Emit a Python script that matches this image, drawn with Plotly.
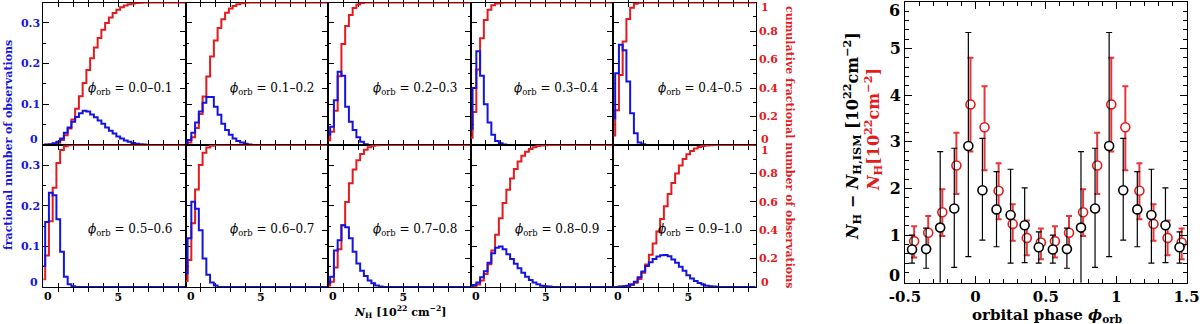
import numpy as np
import plotly.graph_objects as go

W, H = 1200, 324
FONT = 'DejaVu Serif'
BLUE = '#1414e0'
RED = '#e41a1c'

BIN_WIDTH = 0.25
N_BINS = 39  # bin centres 0, 0.25, ... 9.5

PHASE_LABELS = ['0.0–0.1', '0.1–0.2', '0.2–0.3', '0.3–0.4', '0.4–0.5',
                '0.5–0.6', '0.6–0.7', '0.7–0.8', '0.8–0.9', '0.9–1.0']

# fractional number of observations per N_H bin
HIST_00_01 = [0.0, 0.001, 0.002, 0.004, 0.008, 0.016, 0.030, 0.043, 0.057, 0.069, 0.078,
              0.084, 0.082, 0.075, 0.068, 0.060, 0.052, 0.043, 0.035, 0.028, 0.021, 0.016,
              0.011, 0.008, 0.005, 0.003, 0.002, 0.001]
HIST_01_02 = [0.003, 0.012, 0.030, 0.055, 0.082, 0.104, 0.118, 0.118, 0.094, 0.074, 0.052,
              0.037, 0.025, 0.016, 0.010, 0.006, 0.003, 0.001]
HIST_02_03 = [0.025, 0.045, 0.110, 0.180, 0.170, 0.094, 0.057, 0.037, 0.019, 0.008, 0.002]
HIST_03_04 = [0.040, 0.140, 0.230, 0.170, 0.100, 0.055, 0.025, 0.010, 0.004, 0.001]
HIST_04_05 = [0.066, 0.176, 0.246, 0.233, 0.156, 0.078, 0.029, 0.006, 0.002]
HIST_05_06 = [0.052, 0.160, 0.232, 0.226, 0.167, 0.087, 0.025, 0.007, 0.002]
HIST_06_07 = [0.034, 0.120, 0.210, 0.193, 0.140, 0.070, 0.030, 0.011, 0.004]
HIST_07_08 = [0.009, 0.025, 0.090, 0.115, 0.152, 0.147, 0.120, 0.087, 0.058, 0.040, 0.027,
              0.016, 0.009, 0.004, 0.001]
HIST_08_09 = [0.0, 0.005, 0.011, 0.024, 0.039, 0.060, 0.083, 0.097, 0.100, 0.093, 0.081,
              0.069, 0.057, 0.046, 0.035, 0.025, 0.017, 0.011, 0.007, 0.003, 0.002, 0.001]
HIST_09_10 = [0.0, 0.0, 0.001, 0.002, 0.003, 0.007, 0.013, 0.024, 0.038, 0.052, 0.061,
              0.069, 0.075, 0.078, 0.079, 0.076, 0.068, 0.060, 0.050, 0.040, 0.029, 0.021,
              0.015, 0.010, 0.006, 0.003, 0.002, 0.001]
HISTOGRAMS = [HIST_00_01, HIST_01_02, HIST_02_03, HIST_03_04, HIST_04_05,
              HIST_05_06, HIST_06_07, HIST_07_08, HIST_08_09, HIST_09_10]

# column density vs orbital phase (units 1e22 cm^-2)
PHASE_CENTRES = [0.05, 0.15, 0.25, 0.35, 0.45, 0.55, 0.65, 0.75, 0.85, 0.95]
NH_EXCESS = [1.96, 1.55, 1.43, 1.21, 0.74, 0.69, 0.70, 1.16, 1.57, 2.91]
NH_EXCESS_HI = [3.07, 2.36, 2.41, 2.01, 1.07, 1.00, 1.15, 2.79, 2.86, 5.34]
NH_EXCESS_LO = [0.89, 0.75, 0.40, 0.41, 0.40, 0.40, 0.29, -0.50, 0.31, 0.54]
NH_TOTAL = [3.31, 1.95, 1.24, 0.94, 0.84, 0.87, 1.05, 1.49, 2.49, 3.80]
NH_TOTAL_HI = [4.19, 2.54, 1.66, 1.31, 1.14, 1.19, 1.41, 1.98, 3.19, 4.80]
NH_TOTAL_LO = [2.39, 1.34, 0.88, 0.57, 0.48, 0.52, 0.71, 0.98, 1.88, 2.79]


def px(x):
    return x / W


def py(y):
    return 1 - y / H


def ax_name(kind, n):
    return kind if n == 1 else f'{kind}{n}'


def ref(kind, n):
    return kind[0] if n == 1 else f'{kind[0]}{n}'


def unfold(values):
    """Repeat the phase-folded points over -0.5 .. 1.5."""
    xs, ys = [], []
    for shift in (-1, 0, 1):
        for p, v in zip(PHASE_CENTRES, values):
            if -0.5 <= p + shift <= 1.5:
                xs.append(p + shift)
                ys.append(v)
    return xs, ys


fig = go.Figure()
layout = dict(
    template='none',
    width=W, height=H,
    margin=dict(l=0, r=0, t=0, b=0, autoexpand=False),
    paper_bgcolor='white', plot_bgcolor='white',
    showlegend=False,
    font=dict(family=FONT, size=10, color='black', weight='bold'),
)
notes = []

x_edges = [43.3, 185.7, 328.3, 470.7, 613.3, 755.7]
rows = [(2.5, 145.0), (145.0, 287.0)]
bin_x = [k * BIN_WIDTH for k in range(N_BINS)]

for i, (label, hist) in enumerate(zip(PHASE_LABELS, HISTOGRAMS)):
    n = i + 1
    row, col = divmod(i, 5)
    left, right = x_edges[col], x_edges[col + 1]
    top, bottom = rows[row]
    frac = hist + [0.0] * (N_BINS - len(hist))
    cum = np.cumsum(frac) / np.sum(frac)

    # red cumulative on the base axis, blue histogram on the overlay (drawn on top)
    fig.add_trace(go.Scatter(
        x=bin_x, y=cum, mode='lines', line=dict(color=RED, width=2, shape='hvh'),
        xaxis=ref('xaxis', n), yaxis=ref('yaxis', n), hoverinfo='skip'))
    fig.add_trace(go.Scatter(
        x=bin_x, y=frac, mode='lines', line=dict(color=BLUE, width=2, shape='hvh'),
        xaxis=ref('xaxis', n), yaxis=ref('yaxis', n + 10), hoverinfo='skip'))

    layout[ax_name('xaxis', n)] = dict(
        domain=[px(left), px(right)], range=[0, 9.5], anchor=ref('yaxis', n),
        showline=True, linecolor='black', linewidth=1, mirror='allticks',
        ticks='inside', ticklen=4, tickcolor='black',
        tickvals=list(range(10)),
        ticktext=['5' if k == 5 else '' for k in range(10)],
        showticklabels=(row == 1), tickfont=dict(size=11),
        showgrid=False, zeroline=False, layer='below traces', automargin=False)
    layout[ax_name('yaxis', n)] = dict(
        domain=[py(bottom), py(top)], range=[0, 1], anchor=ref('xaxis', n),
        side='right', showline=True, linecolor='black', linewidth=1,
        ticks='inside', ticklen=6, tickcolor='black',
        tickvals=[0.2, 0.4, 0.6, 0.8], ticktext=['0.2', '0.4', '0.6', '0.8'],
        minor=dict(dtick=0.1, ticks='inside', ticklen=3, tickcolor='black'),
        showticklabels=(col == 4), tickfont=dict(size=11, color=RED),
        showgrid=False, zeroline=False, layer='below traces', automargin=False)
    layout[ax_name('yaxis', n + 10)] = dict(
        overlaying=ref('yaxis', n), range=[0, 0.35], anchor=ref('xaxis', n),
        side='left', showline=True, linecolor='black', linewidth=1,
        ticks='inside', ticklen=6, tickcolor='black',
        tickvals=[0.1, 0.2, 0.3], ticktext=['0.1', '0.2', '0.3'],
        minor=dict(dtick=0.05, ticks='inside', ticklen=3, tickcolor='black'),
        showticklabels=(col == 0), tickfont=dict(size=11, color=BLUE),
        showgrid=False, zeroline=False, layer='below traces', automargin=False)

    # phase label inside the panel
    notes.append(dict(
        text=f'<i>ϕ</i><sub>orb</sub> = {label}', x=px(right - 12), y=py(89 if row == 0 else 230),
        xref='paper', yref='paper', xanchor='right', yanchor='middle', showarrow=False,
        font=dict(size=12, weight='normal')))
    # "0" on N_H axis, nudged right of the panel border
    if row == 1:
        notes.append(dict(text='0', x=px(left + 5), y=py(296), xref='paper', yref='paper',
                          xanchor='center', yanchor='middle', showarrow=False,
                          font=dict(size=11)))
    if col == 0:
        notes.append(dict(text='0', x=px(left - 3), y=py(bottom - 5), xref='paper',
                          yref='paper', xanchor='right', yanchor='middle', showarrow=False,
                          font=dict(size=11, color=BLUE)))
    if col == 4:
        notes.append(dict(text='0', x=px(right + 3), y=py(bottom - 5), xref='paper',
                          yref='paper', xanchor='left', yanchor='middle', showarrow=False,
                          font=dict(size=11, color=RED)))
        notes.append(dict(text='1', x=px(right + 3), y=py(top + 5), xref='paper',
                          yref='paper', xanchor='left', yanchor='middle', showarrow=False,
                          font=dict(size=11, color=RED)))

# right-hand panel: N_H against orbital phase
xt, yt = unfold(NH_TOTAL)
_, yt_hi = unfold(NH_TOTAL_HI)
_, yt_lo = unfold(NH_TOTAL_LO)
xe, ye = unfold(NH_EXCESS)
_, ye_hi = unfold(NH_EXCESS_HI)
_, ye_lo = unfold(NH_EXCESS_LO)

fig.add_trace(go.Scatter(
    x=[x + 0.015 for x in xt], y=yt, mode='markers',
    marker=dict(symbol='circle', size=9, color='white', line=dict(color=RED, width=1.6)),
    error_y=dict(type='data', symmetric=False,
                 array=[h - v for h, v in zip(yt_hi, yt)],
                 arrayminus=[v - lo for v, lo in zip(yt, yt_lo)],
                 color='#e8353b', thickness=2, width=3),
    xaxis='x11', yaxis='y21', hoverinfo='skip'))
fig.add_trace(go.Scatter(
    x=xe, y=ye, mode='markers',
    marker=dict(symbol='circle', size=9, color='white', line=dict(color='black', width=1.6)),
    error_y=dict(type='data', symmetric=False,
                 array=[h - v for h, v in zip(ye_hi, ye)],
                 arrayminus=[v - lo for v, lo in zip(ye, ye_lo)],
                 color='black', thickness=1.2, width=3),
    xaxis='x11', yaxis='y21', hoverinfo='skip'))

layout['xaxis11'] = dict(
    domain=[px(905), px(1187)], range=[-0.5, 1.503], anchor='y21',
    showline=True, linecolor='black', linewidth=1, mirror='allticks',
    ticks='inside', ticklen=7, tickcolor='black',
    tickvals=[-0.5, 0, 0.5, 1, 1.5], ticktext=['-0.5', '0', '0.5', '1', '1.5'],
    minor=dict(dtick=0.1, ticks='inside', ticklen=4, tickcolor='black'),
    tickfont=dict(size=15), showgrid=False, zeroline=False, automargin=False)
layout['yaxis21'] = dict(
    domain=[py(282.7), py(1.7)], range=[-0.02, 6.0], anchor='x11',
    showline=True, linecolor='black', linewidth=1, mirror='allticks',
    ticks='inside', ticklen=7, tickcolor='black',
    tickvals=[1, 2, 3, 4, 5], ticktext=['1', '2', '3', '4', '5'],
    minor=dict(dtick=0.2, ticks='inside', ticklen=4, tickcolor='black'),
    tickfont=dict(size=16), showgrid=False, zeroline=False, automargin=False)

notes += [
    dict(text='0', x=px(902), y=py(275), xanchor='right'),
    dict(text='6', x=px(902), y=py(10), xanchor='right'),
]
for nt in notes[-2:]:
    nt.update(xref='paper', yref='paper', yanchor='middle', showarrow=False,
              font=dict(size=16))

notes += [
    dict(text='<i>N</i><sub>H</sub> − <i>N</i><sub>H,ISM</sub> [10<sup>22</sup>cm<sup>−2</sup>]',
         x=px(852), y=py(136), textangle=-90, font=dict(size=16, color='black')),
    dict(text='<i>N</i><sub>H</sub>[10<sup>22</sup>cm<sup>−2</sup>]',
         x=px(873), y=py(130), textangle=-90, font=dict(size=16, color=RED)),
    dict(text='orbital phase <i>ϕ</i><sub>orb</sub>', x=px(1047), y=py(315),
         font=dict(size=15)),
    dict(text='<i>N</i><sub>H</sub> [10<sup>22</sup> cm<sup>−2</sup>]', x=px(400), y=py(312),
         font=dict(size=11)),
    dict(text='fractional number of observations', x=px(8), y=py(145), textangle=-90,
         font=dict(size=11, color=BLUE)),
    dict(text='cumulative fractional number of observations', x=px(790), y=py(147),
         textangle=90, font=dict(size=11, color=RED)),
]
for nt in notes[-6:]:
    nt.update(xref='paper', yref='paper', xanchor='center', yanchor='middle', showarrow=False)

layout['annotations'] = notes
fig.update_layout(**layout)
# drop the default page margin so the figure sits at the window's corner
fig.write_html('out.html', config={'displayModeBar': False},
               post_script="document.body.style.margin='0';")
